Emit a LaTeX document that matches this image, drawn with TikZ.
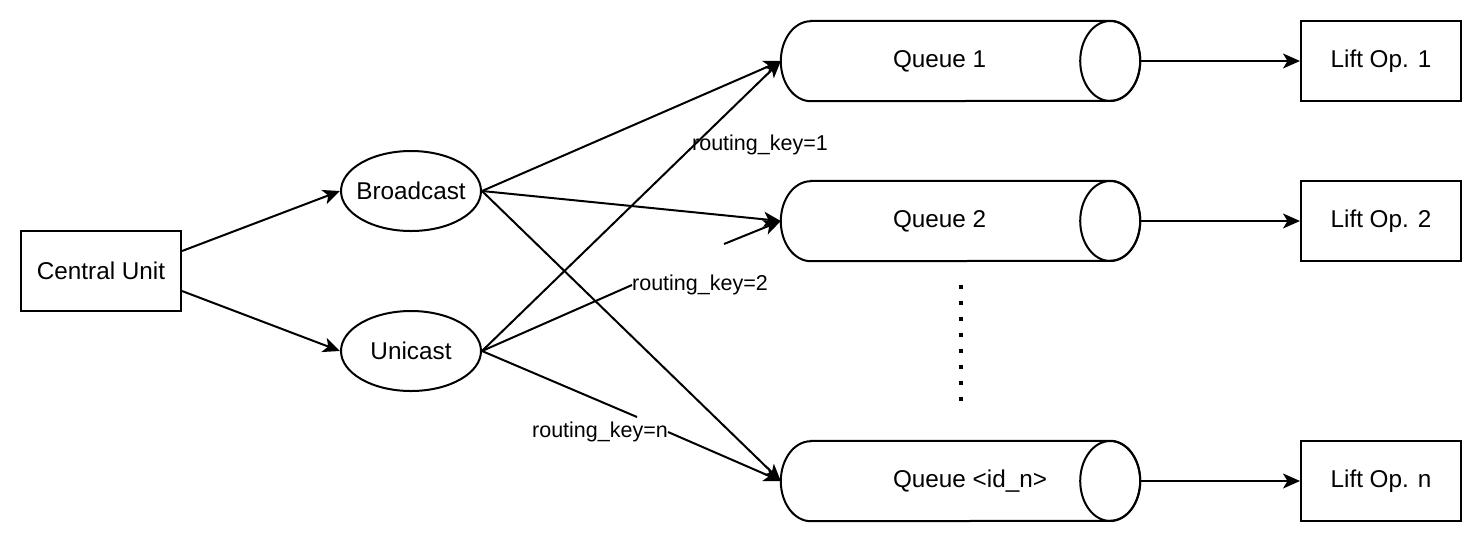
\documentclass[tikz,border=0pt]{standalone}
\usepackage{fontspec}
\setmainfont{Liberation Sans}
\usetikzlibrary{shapes.geometric,arrows.meta}
\newcommand\drawcyl[1]{%
  \draw[line width=2pt] ([xshift=30pt]#1.north west) -- ([xshift=-30pt]#1.north east)
    arc[start angle=90,end angle=-90,x radius=30pt,y radius=40pt]
    -- ([xshift=30pt]#1.south west)
    arc[start angle=270,end angle=90,x radius=30pt,y radius=40pt] -- cycle;
  \draw[line width=2pt] ([xshift=-30pt]#1.east) ellipse[x radius=30pt,y radius=40pt];}
\begin{document}
\begin{tikzpicture}[x=1pt,y=-1pt,
  nodefont/.style={font=\fontsize{24.3}{28}\selectfont},
  box/.style={draw,line width=2pt,minimum width=160pt,minimum height=80pt,inner sep=0pt,nodefont},
  oval/.style={draw,ellipse,line width=2pt,minimum width=140pt,minimum height=80pt,inner sep=0pt,nodefont},
  queue/.style={minimum width=359pt,minimum height=80pt,inner sep=0pt,nodefont},
  lbl/.style={inner sep=0pt,font=\fontsize{21.5}{25}\selectfont},
  conn/.style={line width=2pt,-{Stealth[length=17pt,width=15pt,inset=4.5pt]}},
  plain/.style={line width=2pt}]
\useasboundingbox (0,0) rectangle (1482,542);

% nodes
\node[box] (cu) at (101,271) {Central Unit};
\node[oval] (bc) at (411,191) {\makebox[0pt][c]{Broadcast}};
\node[oval] (un) at (411,351) {\makebox[0pt][c]{Unicast}};

\node[queue] (q1) at (960.5,61) {\makebox[359pt][l]{\hspace*{112pt}Queue 1}};
\node[queue] (q2) at (960.5,221) {\makebox[359pt][l]{\hspace*{112pt}Queue 2}};
\node[queue] (qn) at (960.5,481) {\makebox[359pt][l]{\hspace*{112pt}Queue <id\_n>}};
\drawcyl{q1}
\drawcyl{q2}
\drawcyl{qn}

\node[box] (l1) at (1381,61) {Lift Op. 1};
\node[box] (l2) at (1381,221) {Lift Op. 2};
\node[box] (ln) at (1381,481) {Lift Op. n};

\node[lbl] (rk1) at (760,145) {routing\_key=1};
\node[lbl] (rk2) at (700,285) {routing\_key=2};
\node[lbl] (rkn) at (600,432) {routing\_key=n};
\coordinate (rk2in) at (724,244);
\coordinate (rknin) at (637,417);

% vertical dots
\draw[line width=4pt,dash pattern=on 4pt off 12pt] (961,284.7) -- (961,400.7);

% connectors
\draw[conn] ([yshift=20pt]cu.east) -- (bc.west);
\draw[conn] ([yshift=-20pt]cu.east) -- (un.west);

\draw[conn] (bc.east) -- (q1.west);
\draw[conn] (bc.east) -- (q2.west);
\draw[conn] (bc.east) -- (qn.west);

\draw[conn] (un.east) -- (q1.west);
\draw[plain] (un.east) -- (rk2.west);
\draw[conn] (rk2in) -- (q2.west);
\draw[plain] (un.east) -- (rknin);
\draw[conn] (rkn.east) -- (qn.west);

\draw[conn] (q1.east) -- (l1.west);
\draw[conn] (q2.east) -- (l2.west);
\draw[conn] (qn.east) -- (ln.west);
\end{tikzpicture}
\end{document}
